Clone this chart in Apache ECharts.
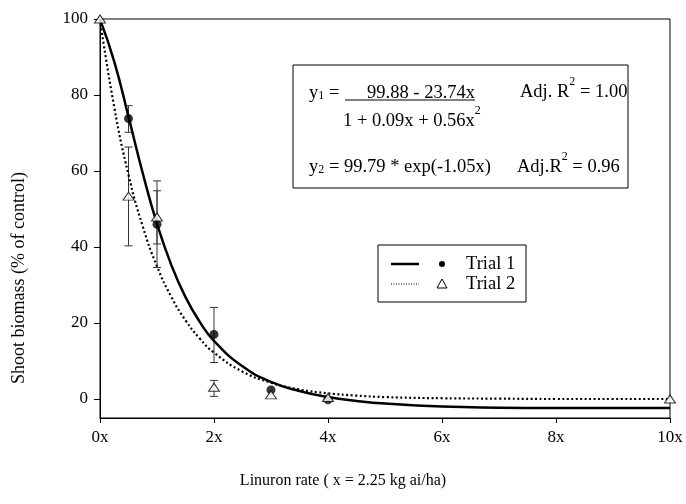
<!DOCTYPE html>
<html><head><meta charset="utf-8">
<script src="https://cdn.jsdelivr.net/npm/echarts@6/dist/echarts.min.js"></script>
<style>html,body{margin:0;padding:0;background:#fff}#c{width:686px;height:504px}</style>
</head><body><div id="c"></div>
<script>
const trial1X  = [0.5, 1, 2, 3, 4];
const trial1Y  = [73.8, 46.0, 17.0, 2.4, -0.2];
const trial1Lo = [70.2, 34.6, 9.6, null, null];
const trial1Hi = [77.2, 57.4, 24.1, null, null];

const trial2X  = [0, 0.5, 1, 2, 3, 4, 10];
const trial2Y  = [100, 53.4, 47.9, 3.1, 1.1, 0.4, 0];
const trial2Lo = [null, 40.3, 40.8, 0.7, null, null, null];
const trial2Hi = [null, 66.3, 54.8, 4.9, null, null, null];

// Fitted curves
const curveX = [0, 0.25, 0.5, 0.75, 1, 1.25, 1.5, 1.75, 2, 2.5, 3, 3.5, 4, 4.5, 5, 6, 7, 8, 9, 10];
const fit1Y  = [99.9, 88.8, 74.3, 59.4, 46.1, 35.3, 26.8, 20.3, 15.3, 8.6, 4.5, 2.1, 0.5, -0.5, -1.2, -2.0, -2.3, -2.4, -2.4, -2.4];
const fit2Y  = [99.8, 76.8, 59.0, 45.4, 34.9, 26.9, 20.7, 15.9, 12.2, 7.2, 4.3, 2.5, 1.5, 0.9, 0.5, 0.2, 0.1, 0.0, 0.0, 0.0];

const yTicks = [0, 20, 40, 60, 80, 100];
const xTickLabels = ['0x', '2x', '4x', '6x', '8x', '10x'];

const FONT = '"Liberation Serif", "DejaVu Serif", serif';

function pairs(xs, ys) { return xs.map((x, i) => [x, ys[i]]); }
function errs(xs, lo, hi) {
  const out = [];
  xs.forEach((x, i) => { if (lo[i] != null) out.push([x, lo[i], hi[i]]); });
  return out;
}
function renderErr(params, api) {
  const x = api.value(0), lo = api.value(1), hi = api.value(2);
  const a = api.coord([x, hi]), b = api.coord([x, lo]);
  const w = 4, st = { stroke: '#333', lineWidth: 1 };
  return { type: 'group', children: [
    { type: 'line', shape: { x1: a[0], y1: a[1], x2: b[0], y2: b[1] }, style: st },
    { type: 'line', shape: { x1: a[0] - w, y1: a[1], x2: a[0] + w, y2: a[1] }, style: st },
    { type: 'line', shape: { x1: b[0] - w, y1: b[1], x2: b[0] + w, y2: b[1] }, style: st }
  ]};
}
const mctx = document.createElement('canvas').getContext('2d');
function measure(t, size) { mctx.font = size + 'px ' + FONT; return mctx.measureText(t).width; }
function txt(text, x, y, size, align) {
  return { type: 'text', z: 100, style: { text: text, x: x, y: y, font: size + 'px ' + FONT, fill: '#000', verticalAlign: 'middle', align: align || 'left' } };
}
// place a run of segments [text, size, dy] left to right
function run(x, y, segs) {
  const out = [];
  segs.forEach(s => { out.push(txt(s[0], x, y + (s[2] || 0), s[1])); x += measure(s[0], s[1]); });
  return out;
}
const F = 18.5, S = 12;

const chart = echarts.init(document.getElementById('c'));
chart.setOption({
  animation: false,
  backgroundColor: '#fff',
  grid: { left: 100, right: 16, top: 19, bottom: 86, show: true, borderColor: '#000', borderWidth: 1 },
  xAxis: {
    type: 'value', min: 0, max: 10, interval: 2,
    axisLine: { onZero: false, lineStyle: { color: '#000', width: 1 } },
    axisTick: { show: true, inside: false, length: 5, lineStyle: { color: '#000' } },
    axisLabel: { color: '#000', fontFamily: FONT, fontSize: 17, margin: 11,
      formatter: v => xTickLabels[Math.round(v / 2)] },
    splitLine: { show: false },
    name: 'Linuron rate ( x = 2.25 kg ai/ha)', nameLocation: 'middle', nameGap: 55,
    nameTextStyle: { color: '#000', fontFamily: FONT, fontSize: 16, padding: [0, 84, 0, 0] }
  },
  yAxis: {
    type: 'value', min: -5, max: 100,
    axisLine: { show: true, lineStyle: { color: '#000', width: 1 } },
    axisTick: { show: true, length: 6, customValues: yTicks, lineStyle: { color: '#000' } },
    axisLabel: { color: '#000', fontFamily: FONT, fontSize: 17, margin: 12, customValues: yTicks },
    splitLine: { show: false }
  },
  series: [
    { type: 'custom', name: 'err1', renderItem: renderErr, data: errs(trial1X, trial1Lo, trial1Hi), encode: { x: 0, y: [1, 2] }, z: 1 },
    { type: 'custom', name: 'err2', renderItem: renderErr, data: errs(trial2X, trial2Lo, trial2Hi), encode: { x: 0, y: [1, 2] }, z: 1 },
    { type: 'line', name: 'fit1', data: pairs(curveX, fit1Y), smooth: true, showSymbol: false,
      lineStyle: { color: '#000', width: 2.5 }, z: 2 },
    { type: 'line', name: 'fit2', data: pairs(curveX, fit2Y), smooth: true, showSymbol: false,
      lineStyle: { color: '#000', width: 2.2, type: [2, 2.5] }, z: 2 },
    { type: 'scatter', name: 'Trial 1', data: pairs(trial1X, trial1Y), symbol: 'circle', symbolSize: 9,
      itemStyle: { color: '#000' }, z: 3 },
    { type: 'scatter', name: 'Trial 2', data: pairs(trial2X, trial2Y), symbol: 'triangle', symbolSize: [11, 8],
      itemStyle: { color: '#fff', borderColor: '#000', borderWidth: 1 }, z: 4 }
  ],
  graphic: [].concat(
    [{ type: 'text', z: 100, x: 19, y: 278, rotation: Math.PI / 2,
       style: { text: 'Shoot biomass (% of control)', x: 0, y: 0, font: '18px ' + FONT, fill: '#000', align: 'center', verticalAlign: 'middle' } }],
    // equation box
    [{ type: 'rect', z: 90, shape: { x: 293, y: 65, width: 335, height: 123 }, style: { fill: '#fff', stroke: '#000', lineWidth: 1 } }],
    run(309, 93, [['y', F, 0], ['1', S, 3], [' =', F, 0]]),
    [txt('99.88 - 23.74x', 475, 93, F, 'right'),
     { type: 'line', z: 100, shape: { x1: 345, y1: 100, x2: 475, y2: 100 }, style: { stroke: '#000', lineWidth: 1 } }],
    run(343, 121, [['1 + 0.09x + 0.56x', F, 0], ['2', S, -10]]),
    run(520, 92, [['Adj. R', F, 0], ['2', S, -10], [' = 1.00', F, 0]]),
    run(309, 167, [['y', F, 0], ['2', S, 3], [' = 99.79 * exp(-1.05x)', F, 0]]),
    run(517, 167, [['Adj.R', F, 0], ['2', S, -10], [' = 0.96', F, 0]]),
    // legend
    [{ type: 'rect', z: 90, shape: { x: 378, y: 245, width: 148, height: 57 }, style: { fill: '#fff', stroke: '#000', lineWidth: 1 } },
     { type: 'line', z: 100, shape: { x1: 391, y1: 264, x2: 419, y2: 264 }, style: { stroke: '#000', lineWidth: 2.5 } },
     { type: 'circle', z: 100, shape: { cx: 442, cy: 264, r: 3 }, style: { fill: '#000' } },
     txt('Trial 1', 466, 264, F),
     { type: 'line', z: 100, shape: { x1: 391, y1: 284, x2: 419, y2: 284 }, style: { stroke: '#000', lineWidth: 1, lineDash: [1, 1.5] } },
     { type: 'polygon', z: 100, shape: { points: [[442, 279], [447, 288], [437, 288]] }, style: { fill: '#fff', stroke: '#000', lineWidth: 1 } },
     txt('Trial 2', 466, 284, F)]
  )
});
</script></body></html>
